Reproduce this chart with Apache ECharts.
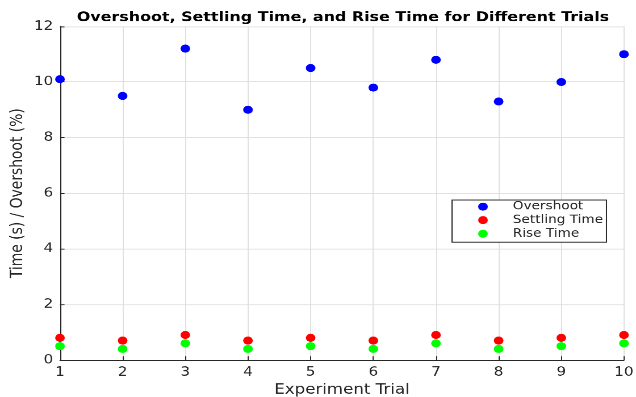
<!DOCTYPE html>
<html><head><meta charset="utf-8">
<script src="https://cdn.jsdelivr.net/npm/echarts@6/dist/echarts.min.js"></script>
<style>
html,body{margin:0;padding:0;background:#fff;overflow:hidden;width:636px;height:397px}
#c{width:560px;height:420px;transform:scale(1.135714,0.945238);transform-origin:0 0}
</style>
</head><body><div id="c"></div>
<script>
const trials = [1,2,3,4,5,6,7,8,9,10];
const overshoot = [10.1,9.5,11.2,9.0,10.5,9.8,10.8,9.3,10.0,11.0];
const settling = [0.8,0.7,0.9,0.7,0.8,0.7,0.9,0.7,0.8,0.9];
const rise = [0.5,0.4,0.6,0.4,0.5,0.4,0.6,0.4,0.5,0.6];
const seriesNames = ['Overshoot','Settling Time','Rise Time'];
const colors = ['#0000ff','#ff0000','#00ff00'];
const font = 'DejaVu Sans, Verdana, sans-serif';
const chart = echarts.init(document.getElementById('c'), null, {devicePixelRatio:2});
const mk = (vals) => trials.map((t,i)=>[t, vals[i]]);
chart.setOption({
  animation:false,
  title:{text:'Overshoot, Settling Time, and Rise Time for Different Trials',left:297,top:7,textAlign:'center',
    textStyle:{fontFamily:font,fontSize:14,fontWeight:'bold',color:'#000'}},
  grid:{left:52.8,right:10.6,top:27.9,bottom:39.1,containLabel:false,outerBoundsMode:'none'},
  legend:{orient:'vertical',left:398,top:211.6,data:seriesNames,icon:'circle',itemWidth:8.5,itemHeight:8.5,itemGap:0.3,
    borderColor:'#262626',borderWidth:1,backgroundColor:'#fff',padding:[0,3,2,23],
    textStyle:{fontFamily:font,fontSize:12,color:'#262626',padding:[0,0,0,17],lineHeight:14}},
  xAxis:{type:'value',min:1,max:10,interval:1,name:'Experiment Trial',nameLocation:'middle',nameGap:21,
    nameTextStyle:{fontFamily:font,fontSize:14.67,color:'#262626'},
    axisLine:{show:true,lineStyle:{color:'#262626',width:1}},
    axisTick:{show:true,inside:true,length:4,lineStyle:{color:'#262626'}},
    axisLabel:{fontFamily:font,fontSize:13.33,color:'#262626',margin:6.5},
    splitLine:{show:true,lineStyle:{color:'#e0e0e0',width:1}}},
  yAxis:{type:'value',min:0,max:12,interval:2,name:'Time (s) / Overshoot (%)',nameLocation:'middle',nameGap:29.5,
    nameMoveOverlap:false,
    nameTextStyle:{fontFamily:font,fontSize:14.67,color:'#262626'},
    axisLine:{show:true,lineStyle:{color:'#262626',width:1}},
    axisTick:{show:true,inside:true,length:4,lineStyle:{color:'#262626'}},
    axisLabel:{fontFamily:font,fontSize:13.33,color:'#262626',margin:6},
    splitLine:{show:true,lineStyle:{color:'#e0e0e0',width:1}}},
  series:[
    {name:seriesNames[0],type:'scatter',data:mk(overshoot),symbolSize:8.5,itemStyle:{color:colors[0],opacity:1}},
    {name:seriesNames[1],type:'scatter',data:mk(settling),symbolSize:8.5,itemStyle:{color:colors[1],opacity:1}},
    {name:seriesNames[2],type:'scatter',data:mk(rise),symbolSize:8.5,itemStyle:{color:colors[2],opacity:1}}
  ]
});
</script></body></html>
